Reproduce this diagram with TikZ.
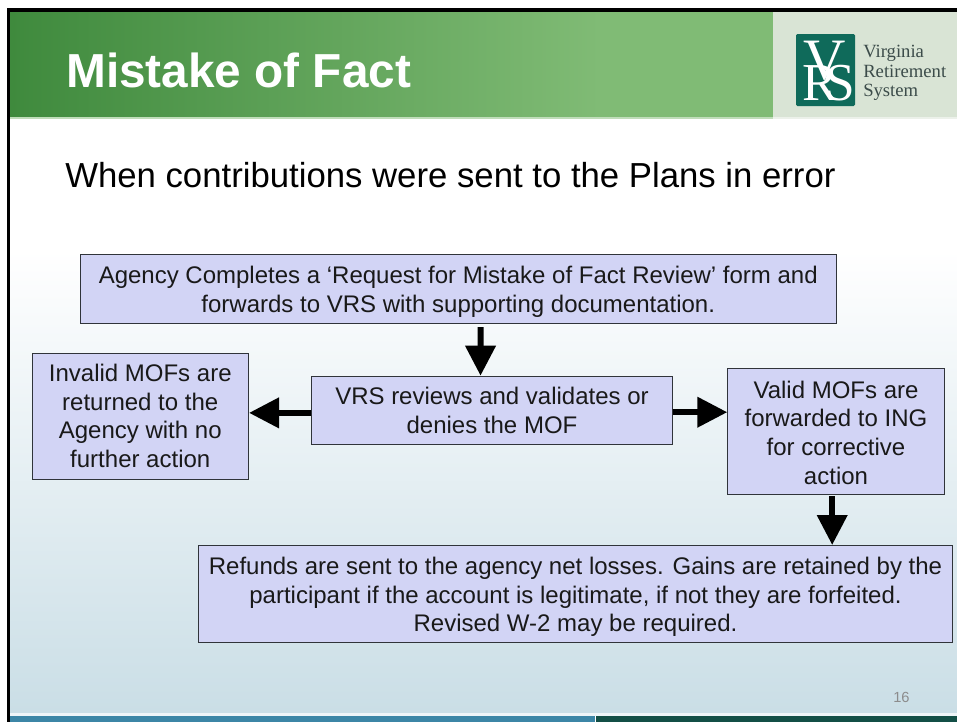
\documentclass[tikz,border=0pt]{standalone}
\usepackage{fontspec}
\setmainfont{Liberation Sans}
\newfontfamily\serifx{Liberation Serif}
\usetikzlibrary{arrows.meta}
\newcommand{\firstlineheight}[1]{\rule{0pt}{#1}}
\definecolor{boxfill}{HTML}{D2D4F5}
\definecolor{boxline}{HTML}{30343A}
\definecolor{gdark}{HTML}{3F8A3D}
\definecolor{gmid}{HTML}{80BB75}
\definecolor{glight}{HTML}{D9E4D5}
\definecolor{vrsgreen}{HTML}{0F6A5A}
\definecolor{bgbot}{HTML}{CADEE6}
\definecolor{barblue}{HTML}{3C86A6}
\definecolor{bardark}{HTML}{134F46}
\definecolor{logotext}{HTML}{3C4C4A}
\tikzset{
  flowbox/.style={draw=boxline,line width=0.75pt,fill=boxfill,inner sep=0pt,align=center,anchor=north west,
    font=\fontsize{18}{21.5}\selectfont,text=black!90},
  flow/.style={line width=4.5pt,-{Triangle[length=22.5pt,width=22pt]},black},
  pagetext/.style={inner sep=0pt,anchor=base west}
}
\begin{document}
\begin{tikzpicture}[x=0.75pt,y=-0.75pt]
\useasboundingbox (0,0) rectangle (957,722);
\fill[white] (0,0) rectangle (957,722);
% page background
\fill[white] (10,11) rectangle (957,250);
\shade[top color=white,bottom color=bgbot] (10,250) rectangle (957,712);
% header
\shade[left color=gdark,right color=gmid] (10,11) rectangle (600,117);
\fill[gmid] (599.5,11) rectangle (773,117);
\fill[glight] (773,11) rectangle (957,117);
\fill[gmid!50!white] (10,117) rectangle (773,118.5);
\fill[glight!50!white] (773,117) rectangle (957,118.5);
% frame
\fill[black] (7,8) rectangle (957,11.5);
\fill[black] (7,8) rectangle (10,722);
% footer
\fill[white!70!bgbot] (10,712.5) rectangle (957,715.5);
\fill[barblue] (10,715.5) rectangle (595,722);
\fill[bardark] (595.5,715.5) rectangle (957,722);
% logo
\fill[vrsgreen,rounded corners=1pt] (796,34) rectangle (855,106);
\node[pagetext,text=white,font=\serifx\fontsize{44}{44}\selectfont] (logoV) at (803,79) {V};
\node[pagetext,text=white,font=\serifx\fontsize{40}{40}\selectfont] (logoR) at (802,100) {R};
\node[pagetext,text=white,font=\serifx\fontsize{40}{40}\selectfont] (logoS) at (825,100) {S};
\node[pagetext,text=logotext,font=\serifx\fontsize{14}{14}\selectfont] (logo1) at (863,57) {Virginia};
\node[pagetext,text=logotext,font=\serifx\fontsize{14}{14}\selectfont] (logo2) at (863,77) {Retirement};
\node[pagetext,text=logotext,font=\serifx\fontsize{14}{14}\selectfont] (logo3) at (863,96) {System};
% titles
\node[pagetext,text=white,font=\bfseries\fontsize{35.8}{36}\selectfont] (title) at (66,87) {Mistake of Fact};
\node[pagetext,text=black,font=\fontsize{26.05}{27}\selectfont] (sub) at (65,187) {When contributions were sent to the Plans in error};
\node[pagetext,text=black!45,font=\fontsize{11}{11}\selectfont] (pg) at (893,702) {16};
% boxes
\node[flowbox,minimum width=567.4pt,minimum height=51.75pt] (top) at (79.5,254)
  {\firstlineheight{16.8pt}Agency Completes a ‘Request for Mistake of Fact Review’ form and\\forwards to VRS with supporting documentation.};
\node[flowbox,minimum width=162.4pt,minimum height=94.5pt] (inv) at (31.5,352.5)
  {Invalid MOFs are\\returned to the\\Agency with no\\further action};
\node[flowbox,minimum width=270.3pt,minimum height=51.2pt] (vrs) at (311.3,375.7)
  {VRS reviews and validates or\\denies the MOF};
\node[flowbox,minimum width=162.3pt,minimum height=94.5pt] (val) at (727.3,368)
  {\firstlineheight{14.6pt}Valid MOFs are\\forwarded to ING\\for corrective\\action};
\node[flowbox,minimum width=565.5pt,minimum height=72.75pt] (ref) at (198,545)
  {\firstlineheight{17.5pt}Refunds are sent to the agency net losses. Gains are retained by the\\participant if the account is legitimate, if not they are forfeited.\\Revised W-2 may be required.};
% connectors
\draw[flow] ([xshift=16.7pt,yshift=-2.4pt]top.south) -- ([xshift=-8.6pt]vrs.north);
\draw[flow] ([yshift=-1.9pt]vrs.west) -- ([yshift=-1.9pt]inv.east |- vrs.west);
\draw[flow] ([yshift=-1.4pt]vrs.east) -- ([yshift=-1.4pt]val.west |- vrs.east);
\draw[flow] ([xshift=-2.85pt,yshift=-1pt]val.south) -- ([xshift=-2.85pt]val.south |- ref.north);
\end{tikzpicture}
\end{document}
